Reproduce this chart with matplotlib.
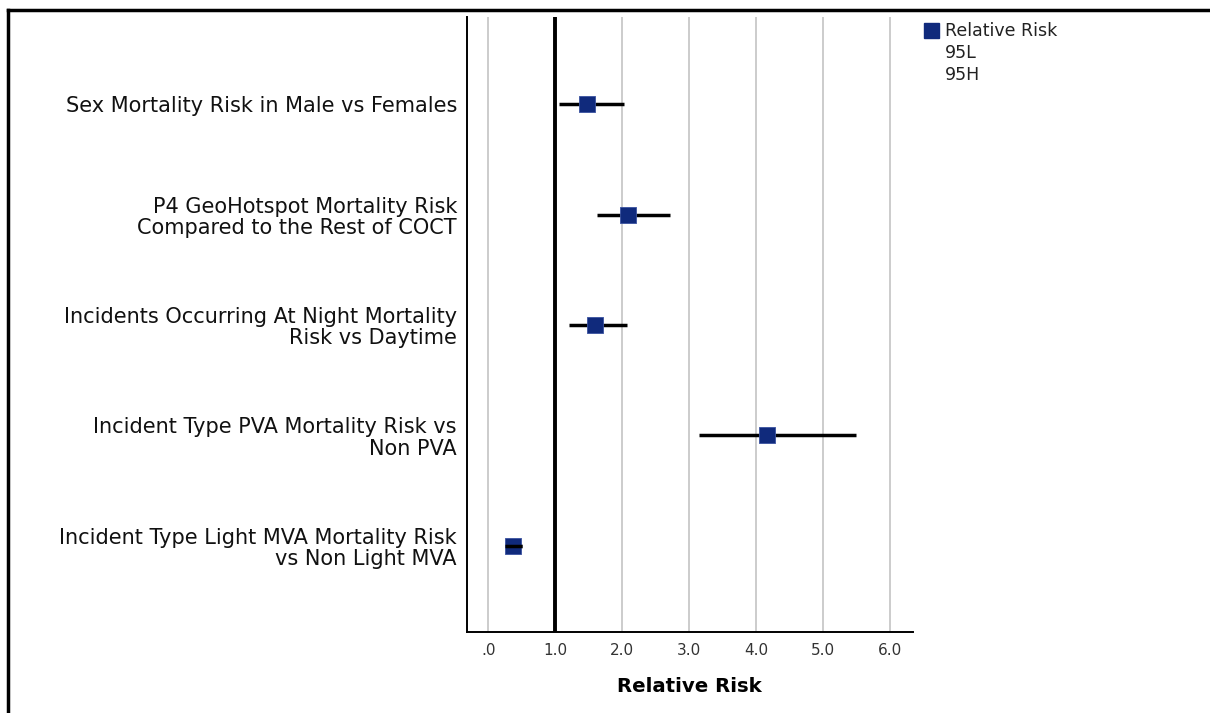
import matplotlib
matplotlib.use("Agg")
import matplotlib.pyplot as plt
from matplotlib.lines import Line2D

# ── data ─────────────────────────────────────────────
labels = [
    "Sex Mortality Risk in Male vs Females",
    "P4 GeoHotspot Mortality Risk\nCompared to the Rest of COCT",
    "Incidents Occurring At Night Mortality\nRisk vs Daytime",
    "Incident Type PVA Mortality Risk vs\nNon PVA",
    "Incident Type Light MVA Mortality Risk\nvs Non Light MVA",
]
rr   = [1.48, 2.09, 1.59, 4.16, 0.37]
ci_l = [1.06, 1.62, 1.21, 3.15, 0.25]
ci_h = [2.03, 2.71, 2.08, 5.49, 0.50]
xticks = [0, 1, 2, 3, 4, 5, 6]
xtick_labels = [".0", "1.0", "2.0", "3.0", "4.0", "5.0", "6.0"]

plt.rcParams["font.family"] = ["DejaVu Sans"]

fig = plt.figure(figsize=(12.1, 7.13), dpi=100)
ax = fig.add_axes([0.3857, 0.114, 0.3686, 0.862])

ypos = list(range(len(labels)))

# grid lines
for t in xticks:
    ax.axvline(t, color="#c4c4c4", linewidth=1.2, zorder=0)
# reference line at RR=1
ax.axvline(1.0, color="black", linewidth=2.8, zorder=1)

# CI lines + markers
ax.hlines(ypos, ci_l, ci_h, color="black", linewidth=2.5, zorder=2)
ax.scatter(rr, ypos, marker="s", s=128, color="#102a7c",
           edgecolors="#3a52a0", linewidths=0.6, zorder=3)
ax.hlines(ypos[-1], ci_l[-1], ci_h[-1], color="black", linewidth=2.5, zorder=4)

ax.set_xlim(-0.32, 6.34)
ax.set_ylim(4.78, -0.79)
ax.set_xticks(xticks)
ax.set_xticklabels(xtick_labels, fontsize=11, color="#333333")
ax.set_yticks(ypos)
ax.set_yticklabels(labels, fontsize=15, color="#111111", linespacing=1.08)
ax.tick_params(axis="both", length=0)
ax.tick_params(axis="x", pad=8)
ax.tick_params(axis="y", pad=7)
ax.set_xlabel("Relative Risk", fontsize=14.2, fontweight="bold", labelpad=14)

for s in ["top", "right"]:
    ax.spines[s].set_visible(False)
ax.spines["left"].set_linewidth(1.4)
ax.spines["bottom"].set_linewidth(1.4)

# legend drawn as figure text
fig.patches.append(plt.Rectangle((924 / 1210, 1 - 38 / 713), 15 / 1210, 15 / 713,
                                 transform=fig.transFigure, color="#102a7c"))
for i, t in enumerate(["Relative Risk", "95L", "95H"]):
    fig.text(945 / 1210, 1 - (31 + 22 * i) / 713, t, fontsize=12.5,
             color="#222222", va="center", ha="left")

# outer frame (top and left)
fig.lines.append(Line2D([8 / 1210, 1.0], [1 - 10 / 713, 1 - 10 / 713],
                        transform=fig.transFigure, color="black", linewidth=2.5))
fig.lines.append(Line2D([8 / 1210, 8 / 1210], [0, 1 - 10 / 713],
                        transform=fig.transFigure, color="black", linewidth=2.5))

fig.savefig("out.png", dpi=100, facecolor="white")
